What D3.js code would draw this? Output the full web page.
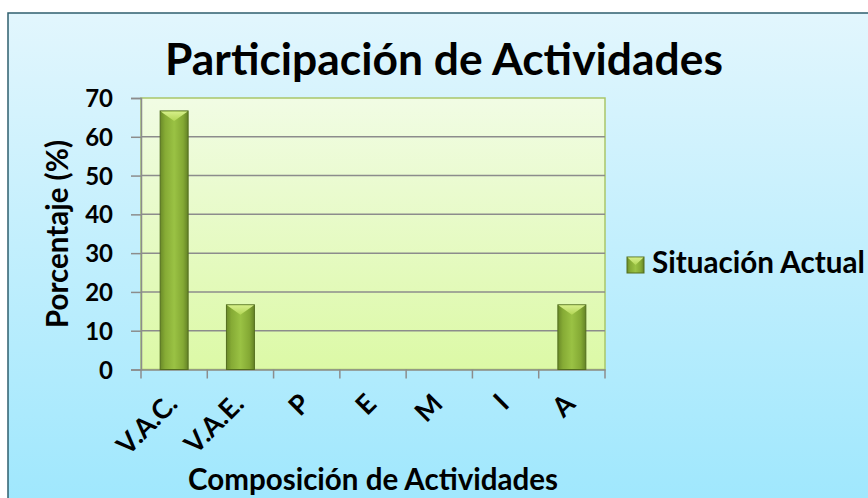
<!DOCTYPE html>
<html><head><meta charset="utf-8">
<script src="https://cdn.jsdelivr.net/npm/d3@7"></script>
<style>html,body{margin:0;padding:0;background:#fff;overflow:hidden}</style>
</head><body>
<script>
const categories = ["V.A.C.", "V.A.E.", "P", "E", "M", "I", "A"];
const values = [66.67, 16.67, 0, 0, 0, 0, 16.67];
const yTicks = [0, 10, 20, 30, 40, 50, 60, 70];
const seriesName = "Situación Actual";
const titleText = "Participación de Actividades";
const xTitle = "Composición de Actividades";
const yTitle = "Porcentaje (%)";

const W = 868, H = 498;
const FONT = "Lato, 'Open Sans', sans-serif";
const svg = d3.select("body").append("svg").attr("width", W).attr("height", H);
const defs = svg.append("defs");

const bg = defs.append("linearGradient").attr("id","bg").attr("x1",0).attr("y1",0).attr("x2",0).attr("y2",1);
bg.append("stop").attr("offset","0%").attr("stop-color","#e2f6fd");
bg.append("stop").attr("offset","100%").attr("stop-color","#9ee7fd");
const pg = defs.append("linearGradient").attr("id","pg").attr("x1",0).attr("y1",0).attr("x2",0).attr("y2",1);
pg.append("stop").attr("offset","0%").attr("stop-color","#f1fce4");
pg.append("stop").attr("offset","100%").attr("stop-color","#dcf9a6");
const bar = defs.append("linearGradient").attr("id","bar").attr("x1",0).attr("y1",0).attr("x2",1).attr("y2",0);
bar.append("stop").attr("offset","0%").attr("stop-color","#6a8a28");
bar.append("stop").attr("offset","18%").attr("stop-color","#86ab35");
bar.append("stop").attr("offset","50%").attr("stop-color","#9ac244");
bar.append("stop").attr("offset","82%").attr("stop-color","#84a934");
bar.append("stop").attr("offset","100%").attr("stop-color","#648226");
const bev = defs.append("linearGradient").attr("id","bev").attr("x1",0).attr("y1",0).attr("x2",0).attr("y2",1);
bev.append("stop").attr("offset","0%").attr("stop-color","#d6ef8a");
bev.append("stop").attr("offset","100%").attr("stop-color","#b2d655");

// chart frame
svg.append("rect").attr("x",8).attr("y",13).attr("width",874).attr("height",500)
  .attr("fill","url(#bg)").attr("stroke","#2f5f6d").attr("stroke-width",1.5);

const plot = {x0:141, x1:605, y0:98, y1:369.5};
const x = d3.scaleBand().domain(categories).range([plot.x0, plot.x1]).paddingInner(0.578).paddingOuter(0.289);
const y = d3.scaleLinear().domain([0, 70]).range([plot.y1, plot.y0]);

svg.append("rect").attr("x",plot.x0).attr("y",plot.y0).attr("width",plot.x1-plot.x0).attr("height",plot.y1-plot.y0)
  .attr("fill","url(#pg)").attr("stroke","#a9c66a").attr("stroke-width",1.5);

// gridlines
svg.append("g").selectAll("line").data(yTicks.filter(d=>d>0 && d<70)).join("line")
  .attr("x1",plot.x0).attr("x2",plot.x1).attr("y1",d=>y(d)).attr("y2",d=>y(d))
  .attr("stroke","#8c8c8c").attr("stroke-width",1.5);

// y axis
const yAxis = svg.append("g").attr("transform",`translate(${plot.x0},0)`)
  .call(d3.axisLeft(y).tickValues(yTicks).tickSize(10).tickPadding(18));
yAxis.select(".domain").attr("stroke","#8c8c8c").attr("stroke-width",1.5);
yAxis.selectAll(".tick line").attr("stroke","#8c8c8c").attr("stroke-width",1.5);
yAxis.selectAll(".tick text").attr("font-family",FONT).attr("font-weight","bold").attr("font-size",24).attr("fill","#000")
  .attr("dy","0.36em");

// x axis
const xAxis = svg.append("g").attr("transform",`translate(0,${plot.y1})`)
  .call(d3.axisBottom(x).tickSize(0).tickFormat(""));
xAxis.select(".domain").attr("stroke","#8c8c8c").attr("stroke-width",1.5);
const step = x.step();
svg.append("g").selectAll("line").data(d3.range(categories.length+1)).join("line")
  .attr("x1",i=>plot.x0+i*step).attr("x2",i=>plot.x0+i*step)
  .attr("y1",plot.y1).attr("y2",plot.y1+9).attr("stroke","#8c8c8c").attr("stroke-width",1.5);

svg.append("g").selectAll("text").data(categories).join("text")
  .attr("transform",d=>`translate(${x(d)+x.bandwidth()/2+5},${plot.y1+36}) rotate(-45)`)
  .attr("text-anchor","end").attr("font-family",FONT).attr("font-weight","bold").attr("font-size",27)
  .text(d=>d);

// bars
const bars = svg.append("g");
categories.forEach((c,i)=>{
  if(values[i] <= 0) return;
  const bx = x(c), bw = x.bandwidth(), by = y(values[i]), bh = plot.y1 - by;
  bars.append("rect").attr("x",bx).attr("y",by).attr("width",bw).attr("height",bh)
    .attr("fill","url(#bar)").attr("stroke","#536e1e").attr("stroke-width",1);
  const b = Math.min(10, bh/2);
  bars.append("path").attr("d",`M${bx+0.5},${by+0.5}L${bx+bw-0.5},${by+0.5}L${bx+bw/2},${by+b}Z`).attr("fill","url(#bev)");
});

function fit(sel, target){
  const w = sel.node().getComputedTextLength();
  const fs = parseFloat(sel.attr("font-size"));
  sel.attr("font-size", fs*target/w);
}

// title
const t = svg.append("text").attr("x",444).attr("y",75).attr("text-anchor","middle")
  .attr("font-family",FONT).attr("font-weight","bold").attr("font-size",36).text(titleText);
fit(t,558);

// axis titles
const xt = svg.append("text").attr("x",373).attr("y",490).attr("text-anchor","middle")
  .attr("font-family",FONT).attr("font-weight","bold").attr("font-size",24).text(xTitle);
fit(xt,370);
const yt = svg.append("text").attr("transform",`translate(68,234) rotate(-90)`).attr("text-anchor","middle")
  .attr("font-family",FONT).attr("font-weight","bold").attr("font-size",24).text(yTitle);
fit(yt,188);

// legend
const lg = svg.append("g");
lg.append("rect").attr("x",627).attr("y",257).attr("width",17).attr("height",16)
  .attr("fill","url(#bar)").attr("stroke","#536e1e").attr("stroke-width",1);
lg.append("path").attr("d","M627.5,257.5L643.5,257.5L635.5,265Z").attr("fill","url(#bev)");
const lt = lg.append("text").attr("x",652).attr("y",273)
  .attr("font-family",FONT).attr("font-weight","bold").attr("font-size",24).text(seriesName);
fit(lt,213);
</script>
</body></html>
